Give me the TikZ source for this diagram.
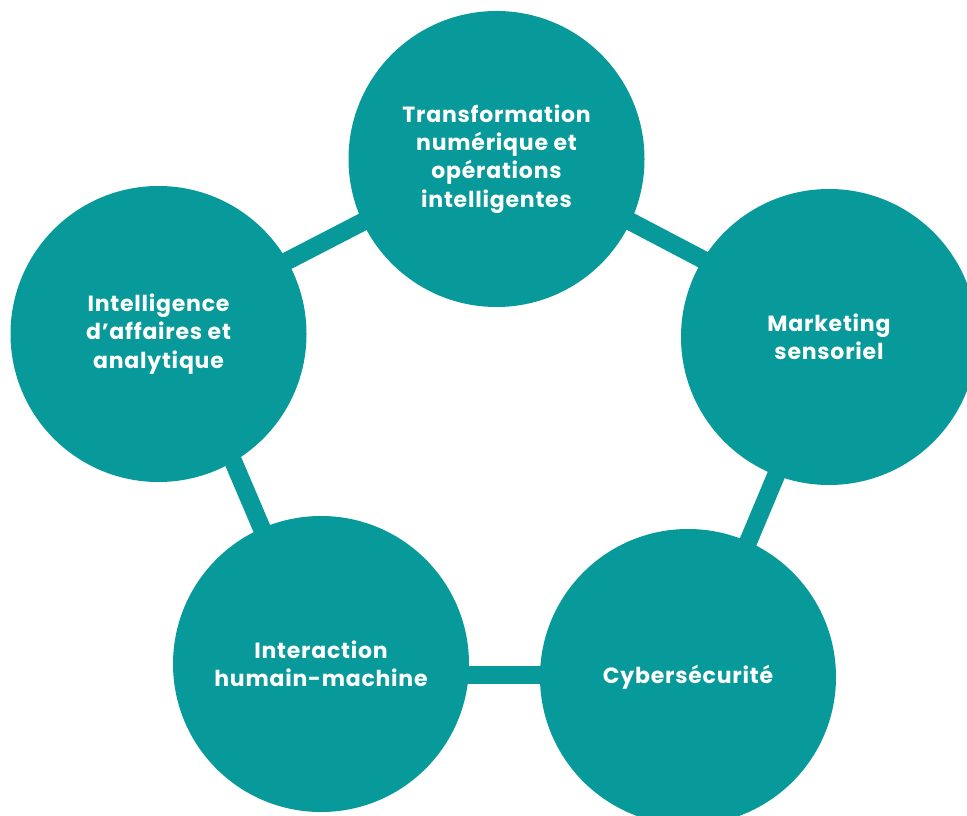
\documentclass[tikz,border=0pt]{standalone}
\usepackage{fontspec}
\setmainfont{Poppins}[LetterSpace=3.5]
\definecolor{tealc}{RGB}{8,153,154}
\begin{document}
\begin{tikzpicture}[x=0.75pt,y=-0.75pt,
  bubble/.style={circle,fill=tealc,minimum size=222pt,inner sep=0pt,text=white,
    font=\bfseries\fontsize{16.5}{21.2}\selectfont,align=center},
  link/.style={draw=tealc,line width=13.5pt}]
\useasboundingbox (0,0) rectangle (967,816);
\clip (0,0) rectangle (967,816);
% pentagon vertices behind the circles
\coordinate (vT) at (498,152);
\coordinate (vR) at (837,330);
\coordinate (vBR) at (692.5,674.5);
\coordinate (vBL) at (324,674.5);
\coordinate (vL) at (173,320);
\draw[link] (vL) -- (vT);
\draw[link] (vT) -- (vR);
\draw[link] (vR) -- (vBR);
\draw[link] (vBR) -- (vBL);
\draw[link] (vBL) -- (vL);
% circles
\node[bubble] (T) at (496.5,159) {Transformation\\numérique et\\opérations\\intelligentes};
\node[bubble] (R) at (829,337) {Marketing\\sensoriel};
\node[bubble] (BR) at (688,677) {Cybersécurité};
\node[bubble] (BL) at (321,664) {Interaction\\humain-machine};
\node[bubble] (L) at (158.5,334) {Intelligence\\d’affaires et\\analytique};
\end{tikzpicture}
\end{document}
